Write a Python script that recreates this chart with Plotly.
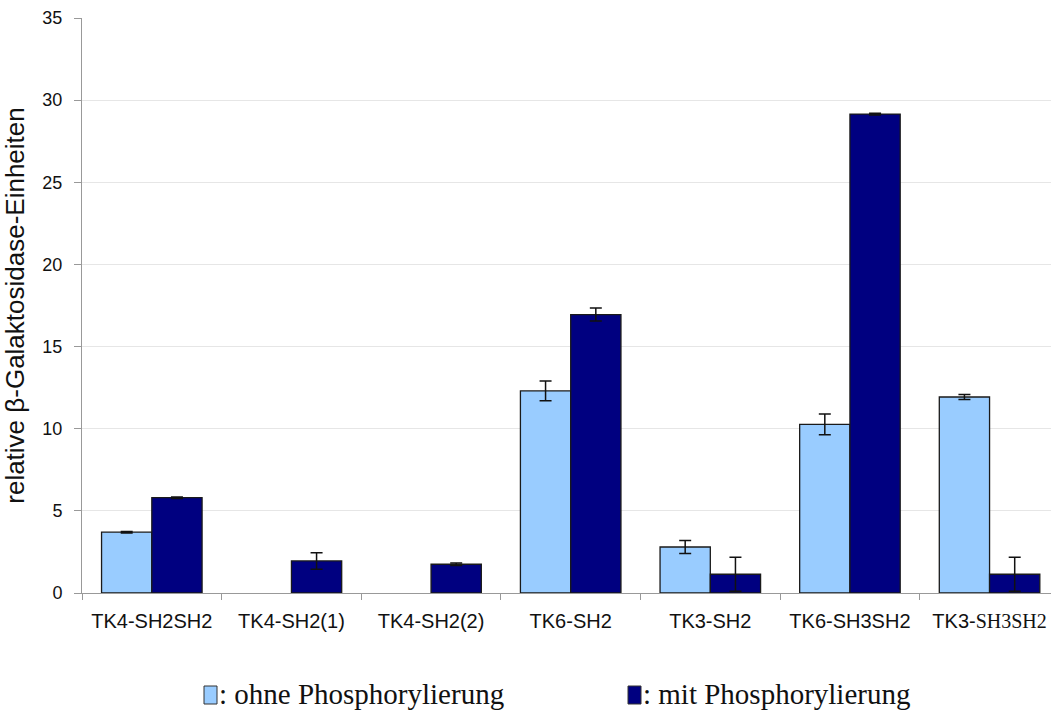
import plotly.graph_objects as go

categories = ["TK4-SH2SH2", "TK4-SH2(1)", "TK4-SH2(2)", "TK6-SH2", "TK3-SH2",
              "TK6-SH3SH2", "TK3-SH3SH2"]
tick_labels = ["TK4-SH2SH2", "TK4-SH2(1)", "TK4-SH2(2)", "TK6-SH2", "TK3-SH2",
               "TK6-SH3SH2",
               "TK3-<span style='font-family:Liberation Serif'>SH3SH2</span>"]

ohne_values = [3.7, None, None, 12.3, 2.8, 10.27, 11.93]
ohne_errors = [0.05, None, None, 0.6, 0.4, 0.63, 0.15]
mit_values = [5.8, 1.95, 1.75, 16.95, 1.14, 29.15, 1.14]
mit_errors = [0.05, 0.5, 0.08, 0.4, 1.03, 0.05, 1.03]

y_ticks = [0, 5, 10, 15, 20, 25, 30, 35]

LIGHT = "#99CCFF"
DARK = "#000080"

fig = go.Figure()
fig.add_trace(go.Bar(
    x=categories, y=ohne_values, name="ohne Phosphorylierung",
    marker=dict(color=LIGHT, line=dict(color="#1a1a1a", width=1.3)),
    error_y=dict(type="data", array=ohne_errors, color="#111", thickness=1.5, width=6),
))
fig.add_trace(go.Bar(
    x=categories, y=mit_values, name="mit Phosphorylierung",
    marker=dict(color=DARK, line=dict(color="#1a1a1a", width=1.3)),
    error_y=dict(type="data", array=mit_errors, color="#111", thickness=1.5, width=6),
))

L, T, B = 82, 18, 118
PW, PH = 1051 - L, 711 - T - B

fig.update_layout(
    width=1051, height=711,
    margin=dict(l=L, r=0, t=T, b=B),
    plot_bgcolor="white", paper_bgcolor="white",
    barmode="group", bargap=0.28, bargroupgap=0,
    showlegend=False,
    font=dict(family="Liberation Sans, Arial", size=18, color="#111"),
    xaxis=dict(
        type="category", range=[-0.5, 6.44],
        tickmode="array", tickvals=categories, ticktext=tick_labels,
        tickson="boundaries", ticks="outside", ticklen=6, tickcolor="#999",
        ticklabelstandoff=10,
        showline=True, linecolor="#999", linewidth=1,
        showgrid=False, tickfont=dict(size=20, color="#111"),
    ),
    yaxis=dict(
        range=[0, 35], tickvals=y_ticks, ticks="outside", ticklen=7, tickcolor="#999",
        ticklabelstandoff=8,
        showline=True, linecolor="#999", linewidth=1,
        showgrid=True, gridcolor="#e6e6e6", gridwidth=1, zeroline=False,
        tickfont=dict(size=18, color="#111"),
        title=dict(text="relative β-Galaktosidase-Einheiten",
                   font=dict(size=26, color="#111"), standoff=12),
    ),
)

# Legend drawn beneath the plot: swatches and serif captions
legend_items = [("ohne Phosphorylierung", LIGHT, 204), ("mit Phosphorylierung", DARK, 628)]
for label, color, px in legend_items:
    fig.add_shape(type="rect", xref="paper", yref="paper",
                  x0=(px - L) / PW, x1=(px + 13 - L) / PW,
                  y0=-(704 - (T + PH)) / PH, y1=-(686 - (T + PH)) / PH,
                  fillcolor=color, line=dict(color="#333", width=1))
    fig.add_annotation(xref="paper", yref="paper",
                       x=(px + 13 - L) / PW, y=-(694 - (T + PH)) / PH,
                       xanchor="left", yanchor="middle", showarrow=False,
                       text=": " + label,
                       font=dict(family="Liberation Serif, Times New Roman", size=29, color="#111"))

fig.write_html("out.html")
